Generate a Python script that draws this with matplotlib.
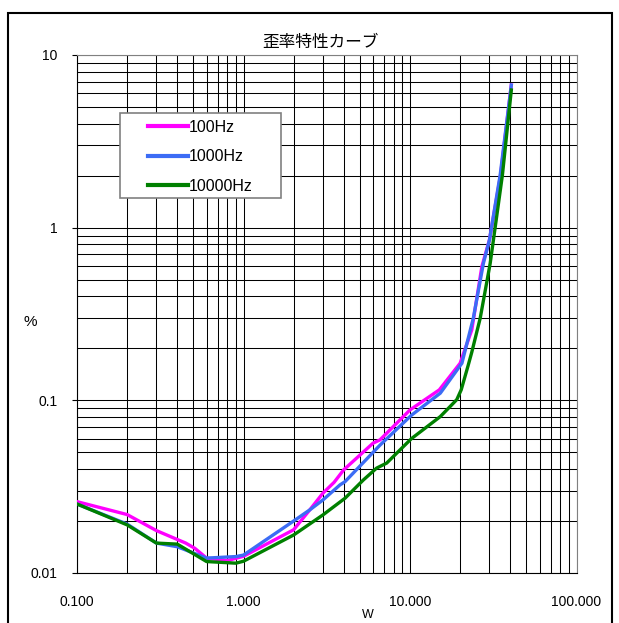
import matplotlib
matplotlib.use("Agg")
import matplotlib.pyplot as plt
from matplotlib.patches import Rectangle
from matplotlib.ticker import LogLocator, FixedLocator, NullFormatter

plt.rcParams['font.family'] = ['Liberation Sans', 'Noto Sans CJK JP']

# 100Hz
w_100 = [0.1, 0.2, 0.3, 0.45, 0.51, 0.6, 0.8, 1.0, 2.0, 2.5, 3.0, 3.5, 4.0,
         6.0, 6.6, 10, 15, 20, 23.5, 27, 30, 35, 40.6]
d_100 = [0.0259, 0.0218, 0.0176, 0.0149, 0.0139, 0.0122, 0.0118, 0.0125, 0.0178,
         0.0232, 0.029, 0.0335, 0.0396, 0.0565, 0.059, 0.088, 0.115, 0.164, 0.256,
         0.594, 0.85, 2.02, 6.7]
# 1000Hz
w_1k = [0.1, 0.2, 0.3, 0.4, 0.6, 0.9, 1.0, 2.0, 2.5, 3.0, 3.8, 4.07, 6.6,
        10.2, 15.2, 20.5, 24, 27.6, 30, 34.8, 40.6]
d_1k = [0.0251, 0.0192, 0.0149, 0.0142, 0.0122, 0.01245, 0.0127, 0.0200, 0.0232,
        0.0265, 0.0324, 0.0338, 0.055, 0.082, 0.11, 0.164, 0.299, 0.622, 0.849,
        2.02, 6.7]
# 10000Hz
w_10k = [0.1, 0.2, 0.3, 0.4, 0.6, 0.9, 1.0, 2.0, 3.0, 4.07, 5.25, 6.3, 7.24,
         10.2, 15.2, 17.4, 19.1, 20.3, 22.3, 23.5, 26.4, 30.3, 31.7, 35.9, 40.6]
d_10k = [0.0251, 0.0190, 0.0149, 0.0147, 0.01165, 0.0114, 0.0117, 0.0166, 0.0217,
         0.0271, 0.0346, 0.0405, 0.0433, 0.060, 0.0805, 0.092, 0.101, 0.115, 0.158,
         0.19, 0.299, 0.62, 0.849, 2.02, 6.27]

x_ticks = [0.1, 1, 10, 100]
x_labels = ['0.100', '1.000', '10.000', '100.000']
y_ticks = [0.01, 0.1, 1, 10]
y_labels = ['0.01', '0.1', '1', '10']

W, H = 619, 623
fig = plt.figure(figsize=(W / 100, H / 100), dpi=100)

# outer frame of the chart area
fig.patches.append(Rectangle((8 / W, -0.05), 604 / W, 1.05 - 13 / H,
                             transform=fig.transFigure, fill=False,
                             edgecolor='black', linewidth=1.5, zorder=1))

ax = fig.add_axes([77 / W, (H - 573) / H, 499.5 / W, 518 / H])
ax.set_xscale('log')
ax.set_yscale('log')
ax.set_xlim(0.1, 100)
ax.set_ylim(0.01, 10)

ax.plot(w_100, d_100, color='#ff00ff', lw=2.4, label='100Hz', zorder=3)
ax.plot(w_1k, d_1k, color='#3c6cf5', lw=2.4, label='1000Hz', zorder=4)
ax.plot(w_10k, d_10k, color='#008000', lw=2.4, label='10000Hz', zorder=5)

ax.xaxis.set_major_locator(FixedLocator(x_ticks))
ax.set_xticklabels(x_labels)
ax.yaxis.set_major_locator(FixedLocator(y_ticks))
ax.set_yticklabels(y_labels)
ax.xaxis.set_minor_locator(LogLocator(base=10, subs=range(2, 10)))
ax.yaxis.set_minor_locator(LogLocator(base=10, subs=range(2, 10)))
ax.xaxis.set_minor_formatter(NullFormatter())
ax.yaxis.set_minor_formatter(NullFormatter())
ax.grid(True, which='both', color='black', linewidth=0.75)
ax.set_axisbelow(True)

ax.tick_params(axis='both', which='major', direction='out', length=3.6,
               width=0.8, labelsize=10)
ax.tick_params(axis='x', which='major', length=0, pad=16)
ax.tick_params(axis='y', which='major', pad=10.5)
ax.tick_params(which='minor', length=0)

for s in ['top', 'right']:
    ax.spines[s].set_color('#808080')
for s in ['left', 'bottom']:
    ax.spines[s].set_color('black')

fig.text(320 / W, 1 - 42 / H, '歪率特性カーブ', fontsize=12, ha='center', va='center')
fig.text(368 / W, 1 - 615 / H, 'W', fontsize=9, ha='center', va='center')
fig.text(30 / W, 1 - 322 / H, '%', fontsize=11, ha='center', va='center')

# legend box drawn separately so the entries can sit inset like the original
fig.patches.append(Rectangle((120 / W, 1 - 198 / H), 161 / W, 85 / H,
                             transform=fig.transFigure, facecolor='white',
                             edgecolor='#808080', linewidth=1.2, zorder=2))
leg = fig.legend(*ax.get_legend_handles_labels(), loc='upper left',
                 bbox_to_anchor=(148 / W, 1 - 120 / H), borderaxespad=0,
                 borderpad=0, frameon=False, fontsize=11.5, handlelength=2.5,
                 handletextpad=0.05, labelspacing=0.9)
leg.set_zorder(5)
for h in leg.get_lines():
    h.set_linewidth(3)

fig.savefig('out.png', dpi=100)
